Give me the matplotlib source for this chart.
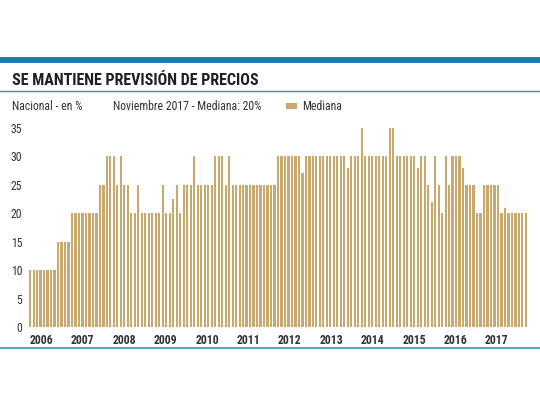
import numpy as np
import matplotlib.pyplot as plt

# Mediana de expectativas de inflación, mensual (ene-2006 a nov-2017)
v2006 = [10, 10, 10, 10, 10, 10, 10, 10, 15, 15, 15, 15]
v2007 = [20, 20, 20, 20, 20, 20, 20, 20, 25, 25, 30, 30]
v2008 = [30, 25, 30, 25, 25, 20, 20, 25, 20, 20, 20, 20]
v2009 = [20, 20, 25, 20, 20, 22.5, 25, 20, 25, 25, 25, 30]
v2010 = [25, 25, 25, 25, 25, 30, 30, 30, 25, 30, 25, 25]
v2011 = [25, 25, 25, 25, 25, 25, 25, 25, 25, 25, 25, 30]
v2012 = [30, 30, 30, 30, 30, 30, 27, 30, 30, 30, 30, 30]
v2013 = [30, 30, 30, 30, 30, 30, 30, 28, 30, 30, 30, 35]
v2014 = [30, 30, 30, 30, 30, 30, 30, 35, 35, 30, 30, 30]
v2015 = [30, 30, 30, 28, 30, 30, 25, 22, 30, 25, 20, 30]
v2016 = [25, 30, 30, 30, 28, 25, 25, 25, 20, 20, 25, 25]
v2017 = [25, 25, 25, 20, 21, 20, 20, 20, 20, 20, 20]

years = ['2006', '2007', '2008', '2009', '2010', '2011',
         '2012', '2013', '2014', '2015', '2016', '2017']
yticks = [0, 5, 10, 15, 20, 25, 30, 35]

mediana = (v2006 + v2007 + v2008 + v2009 + v2010 + v2011 +
           v2012 + v2013 + v2014 + v2015 + v2016 + v2017)
x = np.arange(len(mediana))

narrow = ['Roboto Condensed', 'Roboto', 'DejaVu Sans']
azul = '#1c78b0'
barra = '#c8a96d'

fig = plt.figure(figsize=(5.4, 4.05), dpi=100)
fig.patch.set_facecolor('white')

# franjas azules
fig.add_artist(plt.Line2D([0, 1], [1 - 59.5 / 405] * 2, color=azul, lw=4.2,
                          transform=fig.transFigure))
fig.add_artist(plt.Line2D([0, 1], [1 - 91 / 405] * 2, color='#3d8ec2', lw=1.0,
                          transform=fig.transFigure))
fig.add_artist(plt.Line2D([0, 1], [1 - 348 / 405] * 2, color='#3d8ec2', lw=1.2,
                          transform=fig.transFigure))

# textos
fig.text(12 / 540, 1 - 80.5 / 405, 'SE MANTIENE PREVISIÓN DE PRECIOS',
         family=narrow, fontweight='bold', fontsize=11.5, color='#1e1e1e',
         va='center', ha='left')
fig.text(12 / 540, 1 - 107 / 405, 'Nacional - en %', family=narrow,
         fontsize=8.5, color='#333333', va='center', ha='left')
fig.text(113 / 540, 1 - 107 / 405, 'Noviembre 2017 - Mediana: 20%',
         family=narrow, fontsize=8.5, color='#333333', va='center', ha='left')

ax = fig.add_axes([28 / 540, 1 - 327 / 405, 500 / 540, 199 / 405])
bars = ax.bar(x, mediana, width=0.62, color=barra, linewidth=0, label='Mediana')

ax.set_xlim(-0.6, len(mediana) - 0.4)
ax.set_ylim(0, 35)
ax.set_yticks(yticks)
ax.set_yticklabels([str(t) for t in yticks], family=narrow, fontsize=8.5,
                   color='#333333')
ax.set_xticks(np.linspace(3.2, 133.7, len(years)))
ax.set_xticklabels(years, family=narrow, fontsize=8.5, fontweight='bold',
                   color='#333333')
ax.tick_params(length=0, axis='y', pad=4)
ax.tick_params(length=0, axis='x', pad=5)
for s in ax.spines.values():
    s.set_visible(False)

leg = ax.legend(handles=[bars], loc='center left',
                bbox_to_anchor=(275 / 540, 1 - 107 / 405),
                bbox_transform=fig.transFigure, frameon=False,
                handlelength=1.0, handleheight=0.35, handletextpad=0.4,
                prop={'family': narrow, 'size': 8.5})
for t in leg.get_texts():
    t.set_color('#333333')

fig.savefig('out.png', dpi=100, facecolor='white')
